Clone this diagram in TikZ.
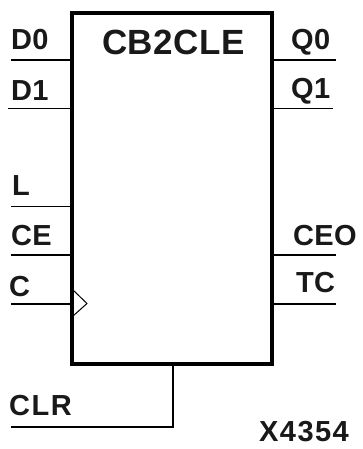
\documentclass[tikz,border=0pt]{standalone}
\usepackage{fontspec}
\setmainfont{Liberation Sans}
\tikzset{
  x=1pt,y=-1pt,
  blockbox/.style={draw=black,line width=4pt,minimum width=200pt,minimum height=351.5pt,inner sep=0pt,outer sep=0pt,anchor=north west},
  pin/.style={draw=black,line width=1.6pt},
  clockmark/.style={draw=black,line width=1pt,line join=miter},
  lab/.style={font=\bfseries\fontsize{29}{29}\selectfont\addfontfeature{LetterSpace=1},inner sep=0pt,anchor=base west,text=black!90},
  titlelab/.style={font=\bfseries\fontsize{35}{35}\selectfont\addfontfeature{LetterSpace=1.5},inner sep=0pt,anchor=base west,text=black!90},
}
\begin{document}
\begin{tikzpicture}
\useasboundingbox (0,0) rectangle (362,449);
\node[blockbox] (box) at (72,12.7) {};
\node[titlelab] (title) at (102,55) {CB2CLE};
% left pins
\foreach \n/\y/\xs in {D0/60/11,D1/108.5/8,L/206.5/11,CE/255/11,C/304/11}{
  \coordinate (in\n) at (\xs,\y);
  \coordinate (inb\n) at (72,\y);
  \draw[pin] (in\n) -- (inb\n);
}
% right pins
\foreach \n/\y/\xe in {Q0/60/336,Q1/108.5/333,CEO/255/336,TC/304/336}{
  \coordinate (out\n) at (\xe,\y);
  \coordinate (outb\n) at (272,\y);
  \draw[pin] (outb\n) -- (out\n);
}
% clear
\coordinate (clrs) at (11,427);
\coordinate (clrc) at (173,427);
\coordinate (clrt) at (173,364);
\draw[pin,line join=miter] (clrs) -- (clrc) -- (clrt);
% clock
\coordinate (ck1) at (73,290);
\coordinate (ck2) at (87,303.5);
\coordinate (ck3) at (73,316);
\draw[clockmark] (ck1) -- (ck2) -- (ck3);
% labels
\node[lab] (lD0) at (11,50) {D0};
\node[lab] (lD1) at (11,101) {D1};
\node[lab] (lL) at (12,195) {L};
\node[lab] (lCE) at (11,245) {CE};
\node[lab] (lC) at (9,296) {C};
\node[lab] (lCLR) at (9,415) {\addfontfeature{LetterSpace=5}CLR};
\node[lab] (lQ0) at (291,50) {Q0};
\node[lab] (lQ1) at (291,99) {Q1};
\node[lab] (lCEO) at (293,245) {CEO};
\node[lab] (lTC) at (296,292) {TC};
\node[lab] (lX) at (259,441) {\addfontfeature{LetterSpace=5}X4354};
\end{tikzpicture}
\end{document}
